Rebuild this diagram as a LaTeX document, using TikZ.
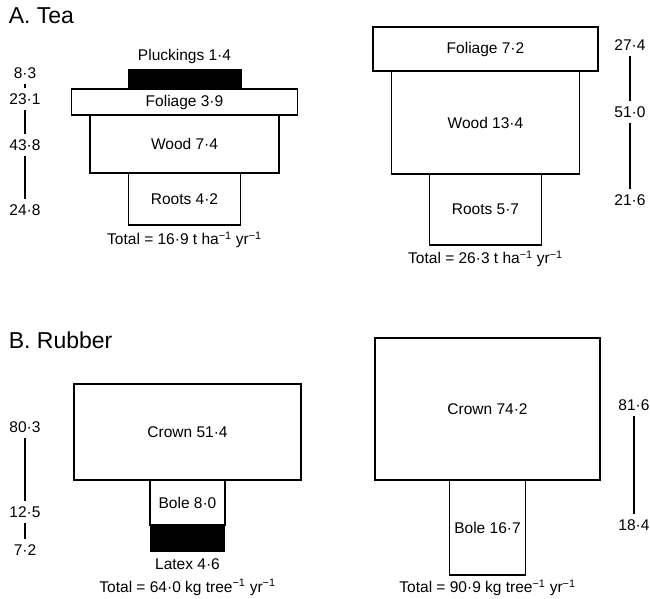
\documentclass[tikz,border=0pt]{standalone}
\usepackage{fontspec}
\setmainfont{Liberation Sans}
\usetikzlibrary{positioning}

\tikzset{part/.style 2 args={draw, minimum width=#1, minimum height=#2, inner sep=0pt, outer sep=0pt},
  cut/.style 2 args={fill=black, minimum width=#1, minimum height=#2, inner sep=0pt, outer sep=0pt},
  scale line/.style={line width=1.5pt, shorten <=4pt, shorten >=4pt}}

\begin{document}
\begin{tikzpicture}[x=1pt, y=-1pt, line width=1.6pt,
  every node/.style={font=\fontsize{15.5}{17}\selectfont, inner sep=1pt},
  title/.style={anchor=west, font=\fontsize{23}{25}\selectfont}]
\useasboundingbox (0,0) rectangle (650,599);
\par
\node[title] (teaT) at (7,16) {A. Tea};
\node[title] (rubT) at (7,340) {B. Rubber};
\par
% tea, first
\node[part={226pt}{26pt}] (folA) at (184.5,102) {Foliage 3·9};
\node[part={189pt}{58pt}, below=0pt of folA] (woodA) {Wood 7·4};
\node[part={112pt}{52pt}, below=0pt of woodA] (rootA) {Roots 4·2};
\node[cut={114pt}{20pt}, above=0pt of folA] (pluckA) {};
\node[above=3pt of pluckA] (pluckL) {Pluckings 1·4};
\node[below=5pt of rootA] (totA) {Total = 16·9 t ha\textsuperscript{−1} yr\textsuperscript{−1}};
\node (a1) at (25,73) {8·3};
\node (a2) at (25,99) {23·1};
\node (a3) at (25,145) {43·8};
\node (a4) at (25,210) {24·8};
\draw[scale line] (a1) -- (a2);
\draw[scale line] (a2) -- (a3);
\draw[scale line] (a3) -- (a4);
\par
% tea, second
\node[part={225pt}{44pt}] (folB) at (485.5,49) {Foliage 7·2};
\node[part={188pt}{103pt}, below=0pt of folB] (woodB) {Wood 13·4};
\node[part={112pt}{71pt}, below=0pt of woodB] (rootB) {Roots 5·7};
\node[below=4pt of rootB] (totB) {Total = 26·3 t ha\textsuperscript{−1} yr\textsuperscript{−1}};
\node (b1) at (630,45) {27·4};
\node (b2) at (630,112) {51·0};
\node (b3) at (630,200) {21·6};
\draw[scale line] (b1) -- (b2);
\draw[scale line] (b2) -- (b3);
\par
% rubber, first
\node[part={227pt}{96pt}] (crownC) at (187.5,432) {Crown 51·4};
\node[part={75pt}{45pt}, below=0pt of crownC] (boleC) {Bole 8·0};
\node[cut={75pt}{27pt}, below=0pt of boleC] (latexC) {};
\node[below=5pt of latexC] (latexL) {Latex 4·6};
\node[below=6pt of latexL] (totC) {Total = 64·0 kg tree\textsuperscript{−1} yr\textsuperscript{−1}};
\node (c1) at (25,427) {80·3};
\node (c2) at (25,512) {12·5};
\node (c3) at (25,550) {7·2};
\draw[scale line] (c1) -- (c2);
\draw[scale line] (c2) -- (c3);
\par
% rubber, second
\node[part={225pt}{142pt}] (crownD) at (487.5,409) {Crown 74·2};
\node[part={76pt}{95pt}, below=0pt of crownD] (boleD) {Bole 16·7};
\node[below=3pt of boleD] (totD) {Total = 90·9 kg tree\textsuperscript{−1} yr\textsuperscript{−1}};
\node (d1) at (634,405) {81·6};
\node (d2) at (634,525) {18·4};
\draw[scale line] (d1) -- (d2);
\par
\end{tikzpicture}
\end{document}
